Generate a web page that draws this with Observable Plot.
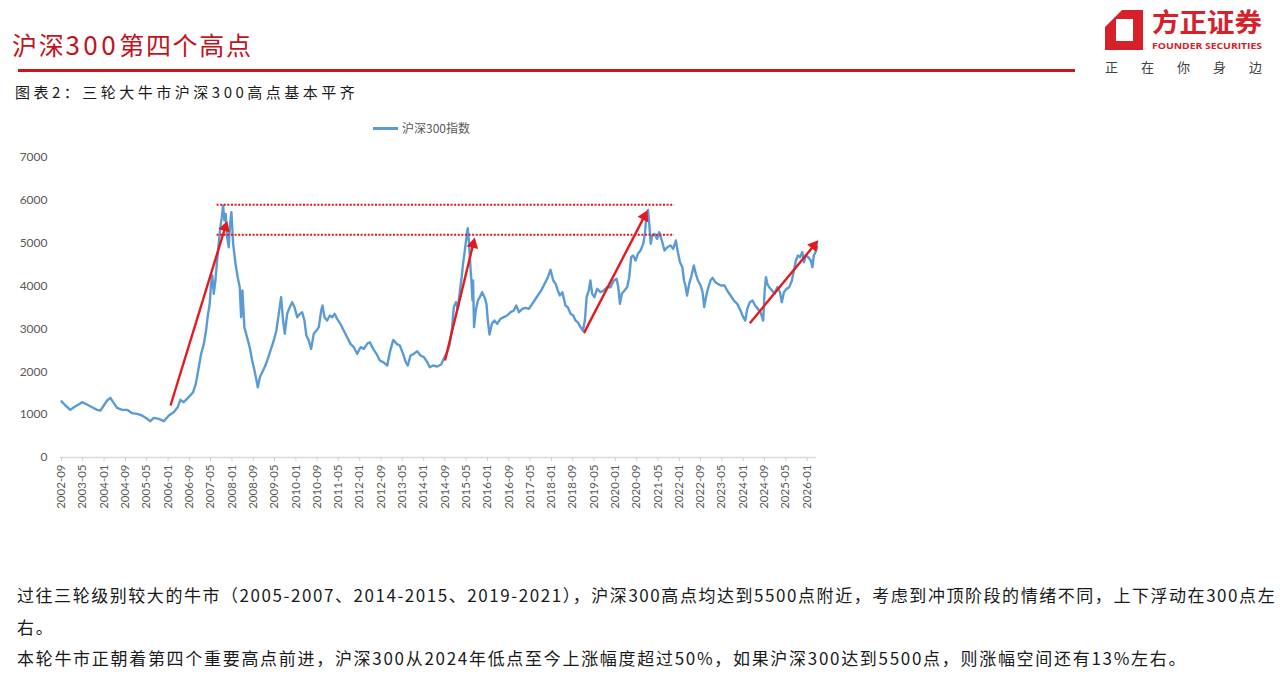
<!DOCTYPE html>
<html><head><meta charset="utf-8">
<script src="https://cdn.jsdelivr.net/npm/d3@7"></script>
<script src="https://cdn.jsdelivr.net/npm/@observablehq/plot@0.6"></script>
<style>
html,body{margin:0;padding:0;}
body{width:1280px;height:679px;overflow:hidden;background:#fff;position:relative;font-family:"Noto Sans CJK SC",sans-serif;}
.abs{position:absolute;white-space:nowrap;}
#title{left:12px;top:31px;font-size:25px;line-height:25px;color:#c0141c;letter-spacing:1.7px;}
#title .num{letter-spacing:3.5px;font-size:26px;}
#rule{left:18px;top:68.5px;width:1057px;height:3.5px;background:#c8161e;}
#sub{left:15px;top:84px;font-size:15px;line-height:15px;color:#1a1a1a;letter-spacing:3.5px;}
#legend{left:373px;top:121px;font-size:12px;line-height:14px;color:#595959;}
#legend i{display:inline-block;width:25px;height:2.5px;background:#5b9bd5;vertical-align:middle;margin-right:4px;position:relative;top:-1px;}
#chart{left:0;top:140px;}
.para{left:17px;font-size:17px;line-height:17px;color:#1a1a1a;letter-spacing:1.7px;}
#p1{letter-spacing:1.55px;}
</style></head><body>
<div id="title" class="abs">沪深<span class="num">300</span>第四个高点</div>
<div id="rule" class="abs"></div>
<div id="sub" class="abs">图表2：三轮大牛市沪深300高点基本平齐</div>
<svg class="abs" style="left:1100px;top:0" width="180" height="80" viewBox="0 0 180 80">
  <path fill="#d7212a" fill-rule="evenodd" d="M22,10 L43,10 L43,50 L5,50 L5,27 Z M16,19 L33,19 L33,41 L16,41 Z"/>
  <text x="52" y="32" font-size="26" font-weight="700" fill="#d7212a" textLength="110" lengthAdjust="spacingAndGlyphs" font-family="Noto Sans CJK SC">方正证券</text>
  <text x="52" y="48.5" font-size="9.5" font-weight="700" fill="#d7212a" textLength="110" lengthAdjust="spacingAndGlyphs" font-family="Open Sans">FOUNDER SECURITIES</text>
  <text x="5" y="72" font-size="13" fill="#404040" textLength="157" lengthAdjust="spacing" font-family="Noto Sans CJK SC">正在你身边</text>
</svg>
<div id="legend" class="abs"><i></i>沪深300指数</div>
<div id="chart" class="abs"></div>
<div id="p1" class="abs para" style="top:585.5px">过往三轮级别较大的牛市（2005-2007、2014-2015、2019-2021），沪深300高点均达到5500点附近，考虑到冲顶阶段的情绪不同，上下浮动在300点左</div>
<div class="abs para" style="top:617.5px">右。</div>
<div class="abs para" style="top:648.5px">本轮牛市正朝着第四个重要高点前进，沪深300从2024年低点至今上涨幅度超过50%，如果沪深300达到5500点，则涨幅空间还有13%左右。</div>
<script>
// ---- data ----
const dates = [
"2002-09-01","2002-10-16","2002-12-12","2003-01-20","2003-03-16","2003-04-23","2003-06-20","2003-08-16","2003-10-13","2003-11-20",
"2003-12-28","2004-02-05","2004-03-13","2004-04-13","2004-05-28","2004-07-24","2004-09-20","2004-11-17","2005-01-13","2005-03-10",
"2005-05-06","2005-06-13","2005-07-21","2005-09-17","2005-11-14","2006-01-10","2006-03-06","2006-04-21","2006-05-22","2006-06-28",
"2006-08-25","2006-10-14","2006-11-14","2006-12-18","2007-01-14","2007-02-14","2007-03-11","2007-04-03","2007-04-22","2007-05-07",
"2007-05-22","2007-06-07","2007-06-26","2007-07-15","2007-08-03","2007-08-22","2007-09-07","2007-09-22","2007-10-07","2007-10-22",
"2007-11-07","2007-11-26","2007-12-07","2007-12-26","2008-01-15","2008-02-11","2008-03-07","2008-03-30","2008-04-15","2008-04-30",
"2008-05-22","2008-06-22","2008-07-22","2008-08-19","2008-09-15","2008-10-08","2008-10-23","2008-11-15","2008-12-12","2009-01-08",
"2009-02-08","2009-03-16","2009-04-23","2009-05-23","2009-06-19","2009-07-16","2009-08-08","2009-08-27","2009-09-23","2009-10-23",
"2009-11-20","2009-12-16","2010-01-16","2010-02-16","2010-03-13","2010-04-09","2010-05-01","2010-05-28","2010-06-24","2010-07-24",
"2010-08-24","2010-09-20","2010-10-17","2010-11-01","2010-11-24","2010-12-24","2011-01-24","2011-02-20","2011-03-20","2011-04-17",
"2011-05-24","2011-07-02","2011-08-09","2011-09-17","2011-10-25","2011-12-02","2012-01-10","2012-02-17","2012-03-25","2012-04-25",
"2012-06-02","2012-07-10","2012-08-17","2012-09-25","2012-11-10","2012-12-10","2013-01-18","2013-02-25","2013-04-03","2013-05-10",
"2013-06-10","2013-07-03","2013-08-03","2013-09-10","2013-10-18","2013-11-25","2014-01-03","2014-02-11","2014-03-11","2014-04-18",
"2014-06-04","2014-07-19","2014-08-26","2014-09-26","2014-10-26","2014-11-22","2014-12-11","2015-01-04","2015-01-26","2015-02-19",
"2015-03-11","2015-03-26","2015-04-11","2015-04-30","2015-05-19","2015-06-04","2015-06-19","2015-06-30","2015-07-12","2015-07-19",
"2015-07-30","2015-08-19","2015-09-12","2015-10-04","2015-10-30","2015-11-27","2015-12-19","2016-01-04","2016-01-23","2016-02-19",
"2016-03-19","2016-04-19","2016-05-27","2016-07-04","2016-08-12","2016-09-20","2016-10-27","2016-11-24","2016-12-24","2017-02-01",
"2017-03-09","2017-04-16","2017-05-13","2017-06-20","2017-07-28","2017-09-05","2017-10-13","2017-11-20","2017-12-20","2018-01-21",
"2018-02-17","2018-03-13","2018-04-06","2018-05-05","2018-06-09","2018-07-06","2018-08-06","2018-09-06","2018-10-02","2018-10-28",
"2018-11-28","2018-12-25","2019-01-17","2019-02-06","2019-03-02","2019-03-21","2019-04-10","2019-05-06","2019-06-06","2019-07-14",
"2019-08-21","2019-09-29","2019-11-06","2019-12-14","2020-01-14","2020-02-03","2020-02-22","2020-03-14","2020-04-14","2020-05-14",
"2020-06-07","2020-06-29","2020-07-22","2020-08-18","2020-09-14","2020-10-14","2020-11-14","2020-12-03","2020-12-18","2021-01-07",
"2021-01-22","2021-02-07","2021-02-26","2021-03-22","2021-04-22","2021-05-15","2021-06-15","2021-07-15","2021-08-15","2021-09-22",
"2021-10-22","2021-11-22","2021-12-15","2022-01-08","2022-02-04","2022-02-23","2022-03-11","2022-03-30","2022-04-23","2022-05-15",
"2022-06-15","2022-07-08","2022-08-01","2022-09-01","2022-09-23","2022-10-12","2022-11-01","2022-11-23","2022-12-23","2023-01-16",
"2023-02-16","2023-03-16","2023-04-23","2023-06-01","2023-07-01","2023-08-09","2023-09-16","2023-10-24","2023-12-01","2024-01-01",
"2024-01-24","2024-02-16","2024-03-16","2024-04-16","2024-05-16","2024-06-16","2024-07-16","2024-08-16","2024-09-02","2024-09-17",
"2024-10-02","2024-10-24","2024-11-24","2024-12-24","2025-01-24","2025-02-24","2025-03-17","2025-04-10","2025-05-10","2025-06-10",
"2025-07-10","2025-08-02","2025-08-25","2025-09-17","2025-10-10","2025-11-06","2025-11-25","2025-12-17","2026-01-14","2026-02-10",
"2026-03-02","2026-03-17","2026-04-06","2026-04-25"
];
const values = [
1310,1213,1112,1174,1236,1291,1236,1174,1112,1096,
1213,1330,1392,1291,1159,1112,1112,1034,1018,980,
902,847,925,902,847,980,1057,1174,1345,1291,
1408,1524,1718,2107,2419,2652,2963,3352,3585,4052,
4246,3819,4130,4596,4985,5374,5607,5880,5530,5685,
5141,4907,5374,5724,4985,4519,4207,3974,3274,3897,
3041,2807,2574,2263,2030,1796,1641,1874,1991,2107,
2263,2496,2730,2963,3352,3741,3196,2885,3352,3508,
3624,3508,3274,3352,3391,3196,2846,2730,2535,2885,
2963,3041,3430,3546,3274,3196,3313,3274,3352,3235,
3119,2963,2807,2652,2574,2419,2574,2535,2652,2691,
2535,2419,2263,2224,2146,2458,2745,2652,2613,2419,
2224,2146,2380,2419,2481,2380,2341,2224,2107,2146,
2123,2170,2341,2458,2652,3041,3508,3624,3468,3897,
4207,4519,4752,5063,5351,4985,4441,4130,3663,4130,
3041,3430,3663,3741,3857,3741,3585,3196,2870,3119,
3196,3119,3235,3274,3313,3391,3430,3546,3391,3468,
3492,3468,3546,3663,3780,3897,4052,4207,4379,4130,
4052,3897,3780,3857,3546,3508,3352,3313,3196,3157,
3041,2963,3196,3741,3897,4130,3819,3741,3935,3857,
3897,3974,3974,4130,4168,3974,3585,3819,3897,3974,
4207,4674,4713,4596,4752,4830,4985,5218,5607,5778,
5452,4985,5180,5218,5102,5257,5063,4830,4907,4946,
4868,5063,4791,4557,4441,4130,4013,3780,4052,4207,
4480,4285,4130,4013,3857,3508,3741,3935,4130,4192,
4091,4052,4013,4013,3897,3780,3663,3585,3430,3274,
3196,3468,3624,3663,3546,3468,3391,3196,3897,4207,
4052,3974,3897,3819,3974,3857,3624,3857,3935,3974,
4130,4363,4596,4713,4674,4791,4557,4713,4674,4596,
4441,4713,4791,4907
];
const tickLabels = ["2002-09","2003-05","2004-01","2004-09","2005-05","2006-01","2006-09","2007-05","2008-01","2008-09",
"2009-05","2010-01","2010-09","2011-05","2012-01","2012-09","2013-05","2014-01","2014-09","2015-05","2016-01","2016-09",
"2017-05","2018-01","2018-09","2019-05","2020-01","2020-09","2021-05","2022-01","2022-09","2023-05","2024-01","2024-09",
"2025-05","2026-01"];
const yTicks = [0,1000,2000,3000,4000,5000,6000,7000];
// annotation: dotted peak levels and arrows
const refLevels = [5900, 5200];
const refFrom = "2007-07-15", refTo = "2021-11-07";
const arrowFrom = ["2006-01-29","2014-09-01","2019-01-06","2024-03-16"];
const arrowFromVal = [1213, 2263, 2901, 3134];
const arrowTo = ["2007-11-07","2015-08-07","2021-01-01","2026-05-06"];
const arrowToVal = [5514, 5126, 5763, 5063];

const parse = d3.utcParse("%Y-%m-%d");
const parseM = d3.utcParse("%Y-%m");
const data = dates.map((d, i) => ({date: parse(d), value: values[i]}));
const ticks = tickLabels.map(parseM);

const W = 830, H = 377, MT = 17, MB = 60, ML = 60, MR = 14;
const xOpts = {type: "utc", domain: [ticks[0], ticks[ticks.length - 1]], range: [61, 806.7]};
const yOpts = {type: "linear", domain: [0, 7000], range: [H - MB, MT]};
const xs = Plot.scale({x: xOpts}), ys = Plot.scale({y: yOpts});

const HEAD = 6.6; // tip-to-centroid distance of triangle head (px)
const arrows = arrowFrom.map((f, i) => {
  const x1 = parse(f), y1 = arrowFromVal[i], x2 = parse(arrowTo[i]), y2 = arrowToVal[i];
  const px1 = xs.apply(x1), py1 = ys.apply(y1), px2 = xs.apply(x2), py2 = ys.apply(y2);
  const len = Math.hypot(px2 - px1, py2 - py1), ux = (px2 - px1) / len, uy = (py2 - py1) / len;
  const cx = px2 - ux * HEAD, cy = py2 - uy * HEAD;
  return {x1, y1, xc: xs.invert(cx), yc: ys.invert(cy), rot: Math.atan2(ux, -uy) * 180 / Math.PI};
});
const refs = refLevels.map(v => ({y: v, x1: parse(refFrom), x2: parse(refTo)}));

const plot = Plot.plot({
  width: W, height: H, marginTop: MT, marginBottom: MB, marginLeft: ML, marginRight: MR,
  x: xOpts, y: yOpts,
  style: {fontFamily: "Lato, 'Open Sans', sans-serif", background: "none", overflow: "visible", color: "#595959"},
  marks: [
    Plot.ruleY([0], {stroke: "#d9d9d9", strokeWidth: 1.3}),
    Plot.axisX({ticks, tickFormat: d3.utcFormat("%Y-%m"), tickRotate: -90, tickSize: 4, tickPadding: 3,
      stroke: "#d0d0d0", fill: "#595959", fontSize: 11.5}),
    Plot.axisY({ticks: yTicks, tickFormat: d3.format("d"), tickSize: 0, tickPadding: 13, fill: "#595959", fontSize: 12}),
    Plot.line(data, {x: "date", y: "value", stroke: "#5b9bd5", strokeWidth: 2.4, strokeLinejoin: "round"}),
    Plot.ruleY(refs, {y: "y", x1: "x1", x2: "x2", stroke: "#e8141c", strokeWidth: 2, strokeDasharray: "2,1.6"}),
    Plot.link(arrows, {x1: "x1", y1: "y1", x2: "xc", y2: "yc", stroke: "#e41a1c", strokeWidth: 2.4}),
    Plot.dot(arrows, {x: "xc", y: "yc", symbol: "triangle", r: 4.4, fill: "#e41a1c", stroke: "none", rotate: "rot"})
  ]
});
document.getElementById("chart").appendChild(plot);
</script>
</body></html>
